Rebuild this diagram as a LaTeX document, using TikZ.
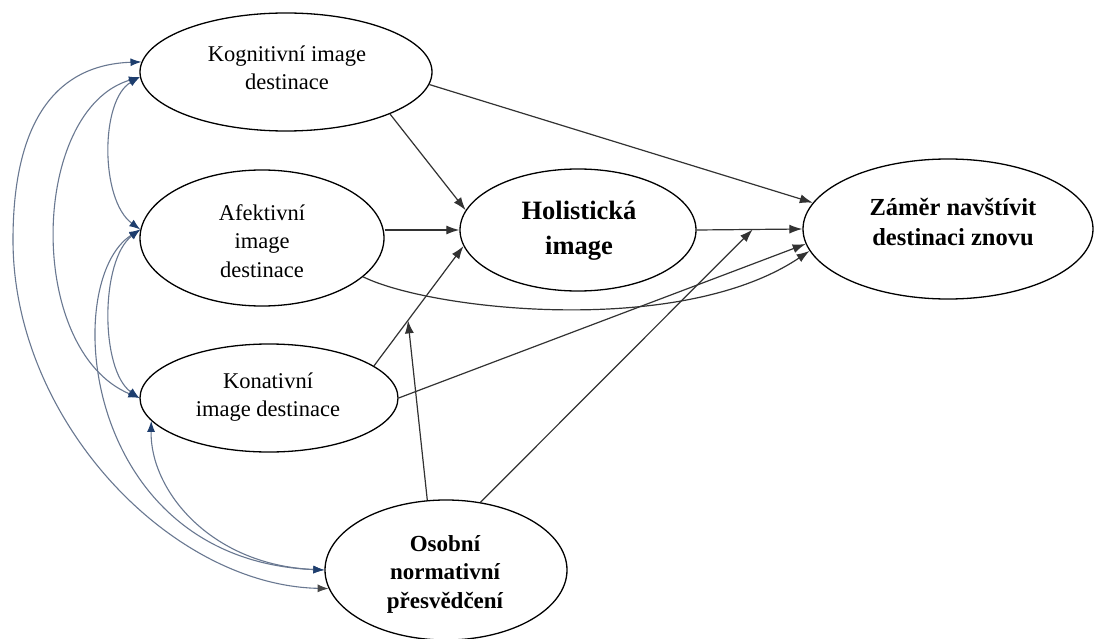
\documentclass[tikz,border=0pt]{standalone}
\usepackage{fontspec}
\setmainfont{Liberation Serif}
\newfontfamily\tnrfont{Liberation Serif}
\usetikzlibrary{shapes.geometric,arrows.meta,calc}
\definecolor{covline}{RGB}{105,120,145}
\definecolor{covtip}{RGB}{30,62,110}
\definecolor{pathc}{RGB}{50,50,50}
\definecolor{graytip}{RGB}{70,70,70}
\begin{document}
\begin{tikzpicture}[x=1pt,y=-1pt]
\tikzset{
  ell/.style={draw=black, line width=1.3pt, ellipse, inner sep=0pt},
  regtxt/.style={align=center, inner sep=0pt, font=\tnrfont\fontsize{22.5}{28.5}\selectfont},
  bldtxt/.style={align=center, inner sep=0pt},
  pth/.style={draw=pathc, line width=1.2pt, -{Latex[length=13pt,width=9pt]}},
  cov/.style={draw=covline, line width=1.1pt, {Latex[length=11pt,width=8pt,color=covtip]}-{Latex[length=11pt,width=8pt,color=covtip]}},
  covg/.style={draw=covline, line width=1.1pt, {Latex[length=11pt,width=8pt,color=covtip]}-{Latex[length=11pt,width=8pt,color=graytip]}}
}
\fill[white] (0,0) rectangle (1094,639);
\useasboundingbox (0,0) rectangle (1094,639);

% ellipses
\node[ell, minimum width=292pt, minimum height=118pt] (kog) at (286,72) {};
\node[regtxt] (kogt) at (287,68) {Kognitivní image\\destinace};
\node[ell, minimum width=244pt, minimum height=136pt] (afe) at (262,238) {};
\node[regtxt] (afet) at (262,241) {Afektivní\\image\\destinace};
\node[ell, minimum width=258pt, minimum height=108pt] (kon) at (269,398) {};
\node[regtxt] (kont) at (268,397) {Konativní\\image destinace};
\node[ell, minimum width=236pt, minimum height=122pt] (hol) at (578,230) {};
\node[bldtxt, font=\tnrfont\bfseries\fontsize{26.5}{35}\selectfont] (holt) at (579,231) {Holistická\\image};
\node[ell, minimum width=290pt, minimum height=140pt] (zam) at (948,229) {};
\node[bldtxt, font=\tnrfont\bfseries\fontsize{24.5}{30}\selectfont] (zamt) at (953,222) {Záměr navštívit\\destinaci znovu};
\node[ell, minimum width=242pt, minimum height=140pt] (oso) at (446,570) {};
\node[bldtxt, font=\tnrfont\bfseries\fontsize{23}{28.5}\selectfont] (osot) at (445,574) {Osobní\\normativní\\přesvědčení};

% structural paths
\draw[pth] (kog.-22) -- (hol.170);
\draw[pth] (afe.east |- hol.west) -- (hol.west);
\draw[pth] (kon.17) -- (hol.188);
\draw[pth] (kog.-5) -- (zam.169);
\draw[pth] (hol.east) -- (zam.west);
\draw[pth] (kon.east) -- (zam.186);
\draw[pth] (afe.-21) .. controls (430,310) and (680,338) .. (zam.189);

% moderation paths
\coordinate (m1) at ($(kon.17)!0.38!(hol.188)$);
\coordinate (m2) at ($(hol.east)!0.53!(zam.west)$);
\draw[pth] (oso.105) -- (m1);
\draw[pth] (oso.63) -- (m2);

% covariances
\draw[covg] (kog.176) .. controls (50,65) and (13,130) .. (13,240) .. controls (13,420) and (170,585) .. (oso.189);
\draw[cov] (kog.182) .. controls (30,110) and (25,350) .. (kon.west);
\draw[cov] (kog.182) .. controls (100,100) and (100,200) .. (afe.176);
\draw[cov] (afe.176) .. controls (60,280) and (80,560) .. (oso.west);
\draw[cov] (afe.176) .. controls (100,260) and (100,370) .. (kon.west);
\draw[cov] (kon.191) .. controls (150,490) and (210,565) .. (oso.west);
\end{tikzpicture}
\end{document}
